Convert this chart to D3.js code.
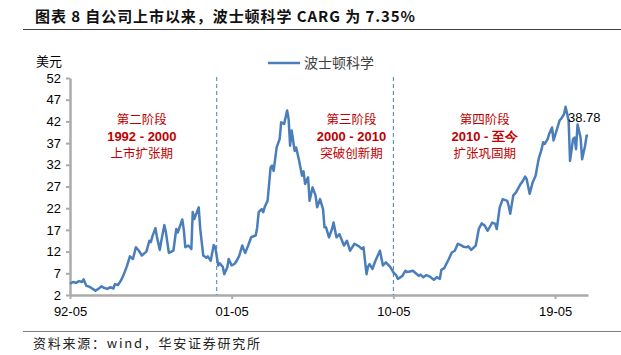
<!DOCTYPE html>
<html>
<head>
<meta charset="utf-8">
<script src="https://cdn.jsdelivr.net/npm/d3@7"></script>
<style>
  html, body { margin: 0; padding: 0; background: #fff; }
  svg { display: block; }
</style>
</head>
<body>
<svg id="chart" width="621" height="355"></svg>
<script>
// ---------- data ----------
const titleText = "图表 8 自公司上市以来，波士顿科学 CARG 为 7.35%";
const sourceText = "资料来源：wind，华安证券研究所";
const unitLabel = "美元";
const seriesName = "波士顿科学";
const lastLabel = "38.78";

const dates = [
  "1992-05","1992-07","1992-09","1992-11","1993-01","1993-02","1993-04","1993-06","1993-10","1993-12",
  "1994-02","1994-04","1994-06","1994-08","1994-10","1994-11","1995-01","1995-03","1995-05","1995-07",
  "1995-09","1995-11","1996-01","1996-03","1996-05","1996-07","1996-08","1996-10","1996-11","1996-12",
  "1997-02","1997-03","1997-05","1997-06","1997-08","1997-09","1997-11","1998-02","1998-04","1998-05",
  "1998-08","1998-09","1998-10","1998-12","1999-02","1999-03","1999-04","1999-07","1999-08","1999-10",
  "1999-12","2000-01","2000-03","2000-05","2000-06","2000-08","2000-09","2000-11","2000-12","2001-02",
  "2001-03","2001-05","2001-07","2001-08","2001-10","2001-12","2002-01","2002-02","2002-04","2002-06",
  "2002-09","2002-10","2002-11","2003-01","2003-02","2003-03","2003-05","2003-07","2003-08","2003-09",
  "2003-11","2004-01","2004-02","2004-04","2004-06","2004-07","2004-08","2004-09","2004-11","2004-12",
  "2005-02","2005-04","2005-05","2005-06","2005-08","2005-09","2005-11","2006-01","2006-02","2006-04",
  "2006-06","2006-07","2006-08","2006-10","2006-12","2007-01","2007-03","2007-05","2007-08","2007-10",
  "2007-12","2008-03","2008-06","2008-08","2008-09","2008-11","2008-12","2009-01","2009-03","2009-05",
  "2009-08","2009-10","2009-12","2010-03","2010-05","2010-07","2010-08","2010-11","2011-01","2011-02",
  "2011-04","2011-06","2011-08","2011-10","2011-11","2012-01","2012-03","2012-05","2012-08","2012-10",
  "2012-12","2013-01","2013-03","2013-06","2013-08","2013-10","2013-12","2014-02","2014-04","2014-06",
  "2014-07","2014-09","2014-12","2015-02","2015-04","2015-06","2015-08","2015-11","2016-01","2016-02",
  "2016-04","2016-06","2016-09","2016-10","2016-11","2017-01","2017-03","2017-06","2017-07","2017-09",
  "2017-10","2017-11","2017-12","2018-02","2018-04","2018-06","2018-08","2018-09","2018-10","2018-12",
  "2019-01","2019-03","2019-04","2019-06","2019-08","2019-09","2019-11","2019-12","2020-02","2020-03",
  "2020-05","2020-06","2020-07","2020-08","2020-10","2020-11","2021-01","2021-02","2021-03"
];
const prices = [
  4.6,5.0,4.8,5.2,5.0,5.6,4.1,3.9,3.0,3.4,
  4.0,3.6,3.4,3.8,3.5,4.5,4.3,5.3,6.8,8.6,
  10.9,10.3,13.0,12.2,11.1,11.7,12.0,14.5,14.2,15.5,
  17.4,15.5,12.4,14.5,18.1,16.5,11.7,12.2,17.2,16.4,
  19.4,17.0,13.0,13.4,12.6,21.1,19.5,22.2,17.2,11.1,
  10.6,10.9,9.9,13.5,13.0,8.8,9.3,8.5,6.8,8.4,
  10.3,8.8,9.2,9.7,11.0,13.4,12.5,11.7,13.4,15.3,
  15.7,17.5,21.1,21.8,21.1,22.2,23.7,31.4,31.8,30.6,
  36.0,37.9,41.8,41.4,44.5,42.6,36.4,39.9,35.2,36.0,
  32.9,29.5,30.5,27.6,29.1,23.7,26.8,24.9,22.2,24.1,
  21.8,17.6,17.6,15.3,17.2,18.7,15.3,16.0,13.4,14.5,
  12.2,13.8,13.2,12.6,13.0,6.8,8.5,9.1,8.0,9.9,
  12.2,8.8,9.5,8.4,7.2,6.5,5.7,6.4,7.6,7.3,
  7.4,7.6,7.0,6.4,6.7,6.1,6.6,6.3,5.5,6.1,
  5.7,7.8,8.2,10.3,11.8,12.2,13.8,13.5,13.1,13.0,
  13.2,12.4,13.4,17.2,18.5,18.0,16.8,18.7,18.4,17.2,
  22.2,24.1,23.7,22.5,20.7,24.9,25.7,27.6,28.0,29.3,
  28.7,27.0,25.3,28.0,29.5,33.3,35.6,37.2,36.8,37.9,
  39.1,40.6,37.6,39.9,42.2,42.6,43.7,45.4,42.2,32.9,
  37.9,38.3,35.6,41.3,38.3,33.3,36.4,38.7,38.78
];

const xDomain = ["1992-05", "2021-03"];
const xTicks = ["1992-05", "2001-05", "2010-05", "2019-05"];
const yTicks = [2, 7, 12, 17, 22, 27, 32, 37, 42, 47, 52];
const phaseBreaks = ["2000-07", "2010-05"];

const phaseNames = ["第二阶段", "第三阶段", "第四阶段"];
const phaseYears = ["1992 - 2000", "2000 - 2010", "2010 - 至今"];
const phaseDescs = ["上市扩张期", "突破创新期", "扩张巩固期"];
const phaseCenters = ["1996-05", "2008-01", "2015-06"];

// ---------- drawing ----------
const parse = d3.timeParse("%Y-%m");
const data = dates.map((d, i) => ({ date: parse(d), value: prices[i] }));

const svg = d3.select("#chart");
const lineColor = "#4A7EBB";
const axisColor = "#ABABAB";
const red = "#C00000";
const latin = "'Liberation Sans', Arial, sans-serif";
const cjk = "'Noto Sans CJK SC', 'Liberation Sans', sans-serif";

const x = d3.scaleTime().domain(xDomain.map(parse)).range([70, 588]);
const y = d3.scaleLinear().domain([2, 52]).range([295, 78]);

// title
svg.append("text")
  .attr("x", 35).attr("y", 22)
  .attr("font-family", cjk).attr("font-weight", "bold").attr("font-size", 15)
  .attr("fill", "#111")
  .attr("textLength", 380).attr("lengthAdjust", "spacing")
  .text(titleText);
svg.append("line")
  .attr("x1", 23).attr("x2", 621).attr("y1", 29.5).attr("y2", 29.5)
  .attr("stroke", "#404040").attr("stroke-width", 1);

// footer
svg.append("line")
  .attr("x1", 23).attr("x2", 621).attr("y1", 331.5).attr("y2", 331.5)
  .attr("stroke", "#808080").attr("stroke-width", 1.2);
svg.append("text")
  .attr("x", 33).attr("y", 348)
  .attr("font-family", cjk).attr("font-size", 13)
  .attr("fill", "#222")
  .attr("textLength", 227).attr("lengthAdjust", "spacing")
  .text(sourceText);

// unit label
svg.append("text")
  .attr("x", 36).attr("y", 66)
  .attr("font-family", cjk).attr("font-size", 13)
  .attr("fill", "#000")
  .text(unitLabel);

// legend
svg.append("line")
  .attr("x1", 268).attr("x2", 300).attr("y1", 63).attr("y2", 63)
  .attr("stroke", lineColor).attr("stroke-width", 2.5);
svg.append("text")
  .attr("x", 304).attr("y", 68)
  .attr("font-family", cjk).attr("font-size", 14)
  .attr("fill", "#404040")
  .text(seriesName);

// axes
const yAxis = svg.append("g")
  .attr("transform", "translate(70,0)")
  .call(d3.axisLeft(y).tickValues(yTicks).tickSize(4).tickSizeOuter(0).tickPadding(5));
const xAxis = svg.append("g")
  .attr("transform", "translate(0,295)")
  .call(d3.axisBottom(x).tickValues(xTicks.map(parse))
    .tickFormat(d3.timeFormat("%y-%m")).tickSize(4).tickSizeOuter(0).tickPadding(8));

[yAxis, xAxis].forEach(g => {
  g.select(".domain").attr("stroke", axisColor).attr("stroke-width", 2.5);
  g.selectAll(".tick line").attr("stroke", axisColor).attr("stroke-width", 2);
  g.selectAll(".tick text").attr("font-family", latin).attr("font-size", 13).attr("fill", "#000");
});

// phase separators
svg.append("g").selectAll("line")
  .data(phaseBreaks.map(parse))
  .join("line")
  .attr("x1", d => x(d)).attr("x2", d => x(d))
  .attr("y1", 77).attr("y2", 295)
  .attr("stroke", lineColor).attr("stroke-width", 1)
  .attr("stroke-dasharray", "4,3");

// series line
svg.append("path")
  .datum(data)
  .attr("fill", "none")
  .attr("stroke", lineColor)
  .attr("stroke-width", 2.5)
  .attr("stroke-linejoin", "round")
  .attr("d", d3.line().x(d => x(d.date)).y(d => y(d.value)));

// phase annotations (one wrapped text block per phase)
const ann = svg.append("g");
phaseCenters.forEach((c, i) => {
  const cx = x(parse(c));
  const t = ann.append("text")
    .attr("x", cx).attr("y", 124)
    .attr("text-anchor", "middle").attr("font-size", 13).attr("fill", red);
  t.append("tspan").attr("x", cx).attr("y", 124)
    .attr("font-family", cjk).attr("font-size", 12.5).text(phaseNames[i]);
  t.append("tspan").attr("x", cx).attr("y", 140.5)
    .attr("font-family", latin).attr("font-weight", "bold").text(phaseYears[i]);
  t.append("tspan").attr("x", cx).attr("y", 158)
    .attr("font-family", cjk).attr("font-size", 12.5).text(phaseDescs[i]);
});

// last value label
const last = data[data.length - 1];
svg.append("text")
  .attr("x", x(last.date) - 20).attr("y", 122)
  .attr("font-family", latin).attr("font-size", 13).attr("fill", "#000")
  .text(lastLabel);
</script>
</body>
</html>
